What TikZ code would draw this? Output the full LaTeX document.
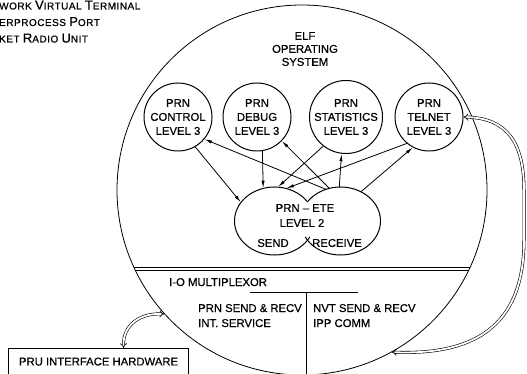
\documentclass[tikz,border=0pt]{standalone}
\usepackage{fontspec}
\setmainfont{Liberation Sans}[FakeBold=0.6]
\usetikzlibrary{arrows.meta,shapes.geometric}

% lettering sizes: full capitals and small capitals
\newcommand{\capA}[1]{{\fontsize{13}{15}\selectfont #1}}
\newcommand{\capB}[1]{{\fontsize{10}{15}\selectfont #1}}

\begin{document}
\begin{tikzpicture}[x=1pt, y=-1pt,
  txt/.style={font=\fontsize{11.3}{14}\selectfont, inner sep=0pt},
  gloss/.style={font=\addfontfeatures{LetterSpace=5}, inner sep=0pt, anchor=base west},
  lvl/.style={circle, draw, line width=1pt, minimum size=68pt, inner sep=0pt,
              align=center, font=\fontsize{11.3}{14}\selectfont},
  half/.style={ellipse, minimum width=80pt, minimum height=68pt, inner sep=0pt},
  link/.style={line width=0.8pt, -{Latex[length=7.5pt, width=3.2pt]}},
  dbl/.style={double, double distance=1.8pt, line width=0.6pt,
              {Implies}-{Implies}}]
\useasboundingbox (0,0) rectangle (527,374);

% glossary lines, cut at the left margin
\node[gloss] (g1) at (-1,9.5)
  {\capB{WORK} \capA{V}\capB{IRTUAL} \capA{T}\capB{ERMINAL}};
\node[gloss] (g2) at (-1,26)
  {\capB{ERPROCESS} \capA{P}\capB{ORT}};
\node[gloss] (g3) at (-1,42.5)
  {\capB{KET} \capA{R}\capB{ADIO} \capA{U}\capB{NIT}};

% operating system boundary
\node[circle, draw, line width=0.8pt, minimum size=370pt, inner sep=0pt] (elf) at (302,190) {};
\node[txt, align=center] (elftxt) at (305,49) {ELF\\[-1pt]OPERATING\\[-1pt]SYSTEM};

% level 3 processes
\node[lvl] (ctl) at (178,117) {PRN\\CONTROL\\LEVEL 3};
\node[lvl] (dbg) at (257,117) {PRN\\DEBUG\\LEVEL 3};
\node[lvl] (sta) at (346,117) {PRN\\STATISTICS\\LEVEL 3};
\node[lvl] (tel) at (429,117) {PRN\\TELNET\\LEVEL 3};

% level 2 end-to-end process: send and receive halves
\node[half] (eteL) at (274.5,221) {};
\node[half] (eteR) at (340.5,221) {};
\draw[line width=1pt] (274.5,221) ++(28:40 and 34)
  arc[start angle=28, end angle=325.6, x radius=40, y radius=34];
\draw[line width=1pt] (340.5,221) ++(152:40 and 34)
  arc[start angle=152, end angle=-145.6, x radius=40, y radius=34];
\node[txt] (eteA) at (305,208) {PRN -- ETE};
\node[txt] (eteB) at (302,223) {LEVEL 2};
\node[txt] (send) at (273,243) {SEND};
\node[txt] (recv) at (337,243) {RECEIVE};

% level 3 <-> level 2
\draw[link] (ctl.-60) -- (eteL.151);
\draw[link] (eteR.115) -- (ctl.-40);
\draw[link] (dbg.-81) -- (eteL.109);
\draw[link] (eteR.109) -- (dbg.-44);
\draw[link] (sta.-128) -- (eteL.84);
\draw[link] (eteR.92) -- (sta.-97);
\draw[link] (tel.-130) -- (eteL.70);
\draw[link] (eteR.55) -- (tel.-118);

% I-O multiplexor layer
\begin{scope}
  \clip (302,190) circle[radius=185];
  \draw[line width=1.3pt] (100,267.5) -- (500,267.5);
  \draw[line width=0.5pt] (100,270.5) -- (500,270.5);
  \draw[line width=0.9pt] (306,292) -- (306,380);
\end{scope}
\draw[line width=0.9pt] (250,292) -- (358,292);
\node[txt, anchor=base west] (iomux) at (169,286) {I-O MULTIPLEXOR};
\node[txt, anchor=base west] (prn1) at (198,312) {PRN SEND \& RECV};
\node[txt, anchor=base west] (prn2) at (198,327) {INT. SERVICE};
\node[txt, anchor=base west] (nvt1) at (313,312) {NVT SEND \& RECV};
\node[txt, anchor=base west] (nvt2) at (313,327) {IPP COMM};

% packet radio unit hardware
\node[txt, draw, line width=1.1pt, minimum width=180pt, minimum height=26pt,
      anchor=north west] (pru) at (8,348) {PRU INTERFACE HARDWARE};

% data paths
\draw[dbl] (tel.east) .. controls (505,118) and (524,140) .. (524,190)
  -- (524,240) .. controls (524,330) and (470,355) .. (elf.-61);
\draw[dbl] ([xshift=25pt]pru.north) .. controls (123,325) and (140,313) .. (elf.-138.3);
\end{tikzpicture}
\end{document}
